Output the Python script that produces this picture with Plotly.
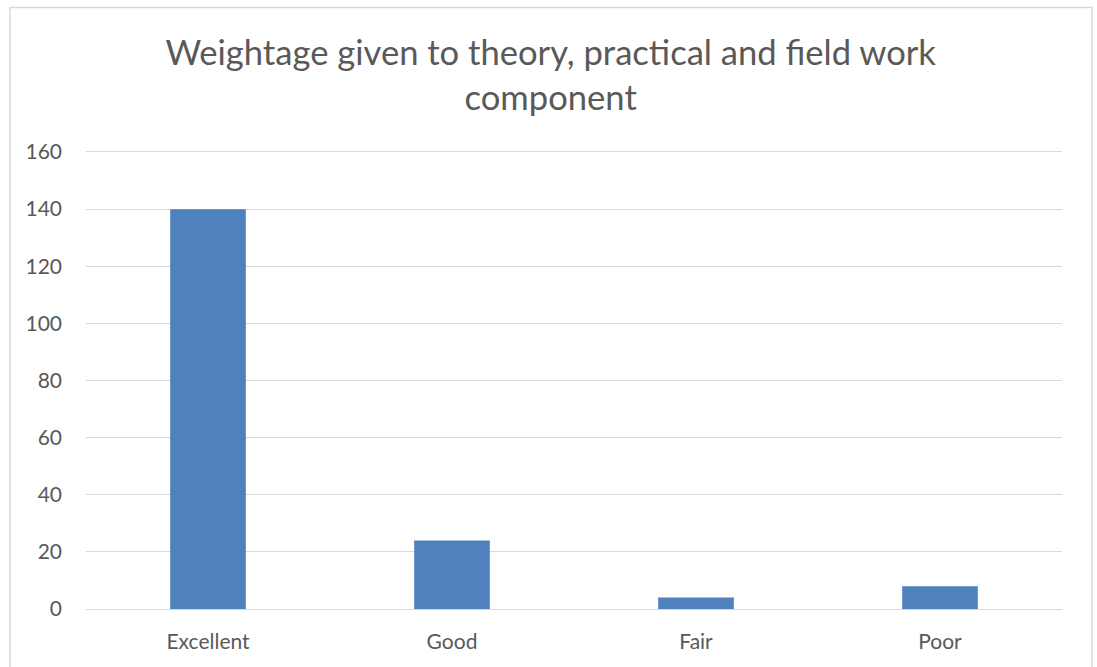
import plotly.graph_objects as go

categories = ["Excellent", "Good", "Fair", "Poor"]
values = [140, 24, 4, 8]
y_ticks = [0, 20, 40, 60, 80, 100, 120, 140, 160]
title_text = "Weightage given to theory, practical and field work<br>component"

W, H = 1097, 667
L, R, T, B = 86, 1097 - 1062, 152, 667 - 609
pw, ph = W - L - R, H - T - B

fig = go.Figure(go.Bar(
    x=categories, y=values,
    marker=dict(color="#4f81bd", line=dict(color="#4f81bd", width=0)),
    width=0.31,
))

font = "Lato, Calibri, 'Open Sans', sans-serif"
fig.update_layout(
    width=W, height=H,
    margin=dict(l=L, r=R, t=T, b=B, pad=0),
    paper_bgcolor="white", plot_bgcolor="white",
    showlegend=False,
    title=dict(text=title_text, x=0.502, xref="container", xanchor="center",
               y=1 - 65 / H, yref="container", yanchor="top",
               font=dict(family=font, size=34.6, color="#595959")),
    font=dict(family=font, size=21, color="#595959"),
    bargap=0.69,
)
fig.update_xaxes(showgrid=False, showline=True, mirror=True, linecolor="#d9d9d9", linewidth=1,
                 ticks="", ticklabelstandoff=14,
                 tickfont=dict(size=21, color="#595959"))
fig.update_yaxes(range=[0, 160], tickvals=y_ticks, showgrid=True, gridcolor="#d9d9d9",
                 gridwidth=1, zeroline=True, zerolinecolor="#d9d9d9", zerolinewidth=1,
                 showline=False, ticks="", ticklabelstandoff=23,
                 tickfont=dict(size=21, color="#595959"))

# chart border
fig.add_shape(type="rect", xref="paper", yref="paper",
              x0=(10 - L) / pw, x1=(1092 - L) / pw,
              y0=(H - B - 700) / ph, y1=(H - B - 7.5) / ph,
              line=dict(color="#d9d9d9", width=1.5), fillcolor="rgba(0,0,0,0)", layer="below")

fig.write_html("out.html", config={"displayModeBar": False},
               post_script="document.body.style.margin='0';document.body.style.overflow='hidden';")
